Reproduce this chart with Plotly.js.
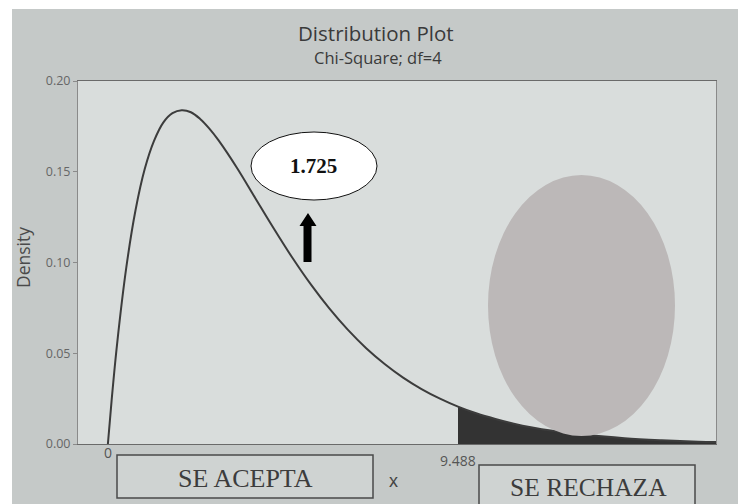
<!DOCTYPE html>
<html>
<head>
<meta charset="utf-8">
<script src="https://cdn.plot.ly/plotly-3.0.1.min.js"></script>
<style>html,body{margin:0;padding:0;background:#fff;}#chart{width:738px;height:504px;}</style>
</head>
<body>
<div id="chart"></div>
<script>
// Values: Chi-Square density, df = 4
var xValues = [0, 0.1, 0.25, 0.5, 0.75, 1, 1.25, 1.5, 1.75, 2, 2.25, 2.5, 2.75, 3, 3.5, 4, 4.5, 5, 5.5, 6, 6.5, 7, 7.5, 8, 8.5, 9, 9.488, 10, 10.5, 11, 11.5, 12, 13, 14, 15, 16, 16.6];
var density = [0, 0.0238, 0.0552, 0.0974, 0.1289, 0.1516, 0.1670, 0.1771, 0.1823, 0.1839, 0.1828, 0.1791, 0.1738, 0.1673, 0.1521, 0.1353, 0.1186, 0.1026, 0.0879, 0.0747, 0.0630, 0.0528, 0.0441, 0.0366, 0.0303, 0.0250, 0.0206, 0.0168, 0.0138, 0.0112, 0.0091, 0.0074, 0.0049, 0.0032, 0.0021, 0.0013, 0.0010];
var criticalValue = 9.488;
var yTicks = [0, 0.05, 0.10, 0.15, 0.20];
var statValue = "1.725";
var acceptLabel = "SE ACEPTA";
var rejectLabel = "SE RECHAZA";

// layout geometry (pixels)
var W = 738, H = 504, L = 78, R = 22, T = 81, B = 60;
var PW = W - L - R, PH = H - T - B;
function px(x) { return (x - L) / PW; }
function py(y) { return (H - B - y) / PH; }

var tailX = [], tailY = [];
for (var i = 0; i < xValues.length; i++) {
  if (xValues[i] >= criticalValue) { tailX.push(xValues[i]); tailY.push(density[i]); }
}

var traces = [
  { x: tailX, y: tailY, type: 'scatter', mode: 'lines', fill: 'tozeroy',
    fillcolor: '#333333', line: { width: 0, color: '#333333', shape: 'spline' }, hoverinfo: 'skip' },
  { x: xValues, y: density, type: 'scatter', mode: 'lines',
    line: { color: '#3c3c3c', width: 2, shape: 'spline', smoothing: 1 } }
];

function arrowPath() {
  var pts = [[308, 213], [316.5, 226], [311.5, 226], [311.5, 262], [303.5, 262], [303.5, 226], [299.5, 226]];
  var s = '';
  for (var k = 0; k < pts.length; k++) {
    s += (k === 0 ? 'M' : 'L') + px(pts[k][0]).toFixed(5) + ',' + py(pts[k][1]).toFixed(5) + ' ';
  }
  return s + 'Z';
}

var shapes = [
  // white photo borders
  { type: 'rect', xref: 'paper', yref: 'paper', x0: px(0), x1: px(W), y0: py(9), y1: py(0), fillcolor: '#ffffff', line: { width: 0 } },
  { type: 'rect', xref: 'paper', yref: 'paper', x0: px(0), x1: px(12), y0: py(H), y1: py(0), fillcolor: '#ffffff', line: { width: 0 } },
  // gray patch
  { type: 'circle', xref: 'paper', yref: 'paper', x0: px(488), x1: px(675), y0: py(436), y1: py(175), fillcolor: '#bcb8b8', line: { width: 0 } },
  // statistic ellipse
  { type: 'circle', xref: 'paper', yref: 'paper', x0: px(251), x1: px(377), y0: py(200), y1: py(132), fillcolor: '#ffffff', line: { color: '#111111', width: 1 } },
  // arrow
  { type: 'path', xref: 'paper', yref: 'paper', path: arrowPath(), fillcolor: '#000000', line: { width: 0 } },
  // boxes
  { type: 'rect', xref: 'paper', yref: 'paper', x0: px(117), x1: px(373), y0: py(498), y1: py(455), fillcolor: '#cfd3d2', line: { color: '#4a4a4a', width: 1.5 } },
  { type: 'rect', xref: 'paper', yref: 'paper', x0: px(479), x1: px(695), y0: py(512), y1: py(465), fillcolor: '#cfd3d2', line: { color: '#4a4a4a', width: 1.5 } }
];

var annotations = [
  { text: 'Distribution Plot', xref: 'paper', yref: 'paper', x: px(376), y: py(33), xanchor: 'center', yanchor: 'middle', showarrow: false,
    font: { family: 'Open Sans, sans-serif', size: 20.5, color: '#3a3a3a' } },
  { text: 'Chi-Square; df=4', xref: 'paper', yref: 'paper', x: px(378), y: py(57), xanchor: 'center', yanchor: 'middle', showarrow: false,
    font: { family: 'Open Sans, sans-serif', size: 16.5, color: '#3a3a3a' } },
  { text: '0', xref: 'x', yref: 'paper', x: 0, y: py(453), xanchor: 'center', yanchor: 'middle', showarrow: false,
    font: { family: 'Open Sans, sans-serif', size: 14, color: '#555555' } },
  { text: String(criticalValue), xref: 'x', yref: 'paper', x: criticalValue, y: py(461), xanchor: 'center', yanchor: 'middle', showarrow: false,
    font: { family: 'Open Sans, sans-serif', size: 14, color: '#555555' } },
  { text: '<b>' + statValue + '</b>', xref: 'paper', yref: 'paper', x: px(313), y: py(166), xanchor: 'center', yanchor: 'middle', showarrow: false,
    font: { family: 'Liberation Serif, Times New Roman, serif', size: 21, color: '#111111' } },
  { text: acceptLabel, xref: 'paper', yref: 'paper', x: px(245), y: py(478), xanchor: 'center', yanchor: 'middle', showarrow: false,
    font: { family: 'Liberation Serif, Times New Roman, serif', size: 26, color: '#3c3c3c' } },
  { text: rejectLabel, xref: 'paper', yref: 'paper', x: px(588), y: py(487), xanchor: 'center', yanchor: 'middle', showarrow: false,
    font: { family: 'Liberation Serif, Times New Roman, serif', size: 25.5, color: '#3c3c3c' } },
  { text: 'x', xref: 'paper', yref: 'paper', x: px(393), y: py(481), xanchor: 'center', yanchor: 'middle', showarrow: false,
    font: { family: 'Liberation Sans, Arial, sans-serif', size: 18, color: '#444444' } },
  { text: 'Density', xref: 'paper', yref: 'paper', x: px(23), y: py(257), xanchor: 'center', yanchor: 'middle', showarrow: false, textangle: -90,
    font: { family: 'Open Sans, sans-serif', size: 17.5, color: '#4a4a4a' } }
];

var layout = {
  width: W, height: H,
  margin: { l: L, r: R, t: T, b: B, pad: 0 },
  paper_bgcolor: '#c5c9c8',
  plot_bgcolor: '#d9dddc',
  showlegend: false,
  xaxis: { range: [-0.81, 16.48], showgrid: false, zeroline: false, showticklabels: false, ticks: '',
    showline: true, mirror: true, linecolor: '#6a6a6a', linewidth: 1.2 },
  yaxis: { range: [0, 0.2], tickvals: yTicks, tickformat: '.2f', showgrid: false, zeroline: false,
    ticks: 'outside', ticklen: 4, tickcolor: '#8a8a8a', tickfont: { family: 'Open Sans, sans-serif', size: 12.5, color: '#666666' },
    showline: true, mirror: true, linecolor: '#8a8a8a', linewidth: 1 },
  shapes: shapes,
  annotations: annotations
};

Plotly.newPlot('chart', traces, layout, { displayModeBar: false, staticPlot: true });
</script>
</body>
</html>
